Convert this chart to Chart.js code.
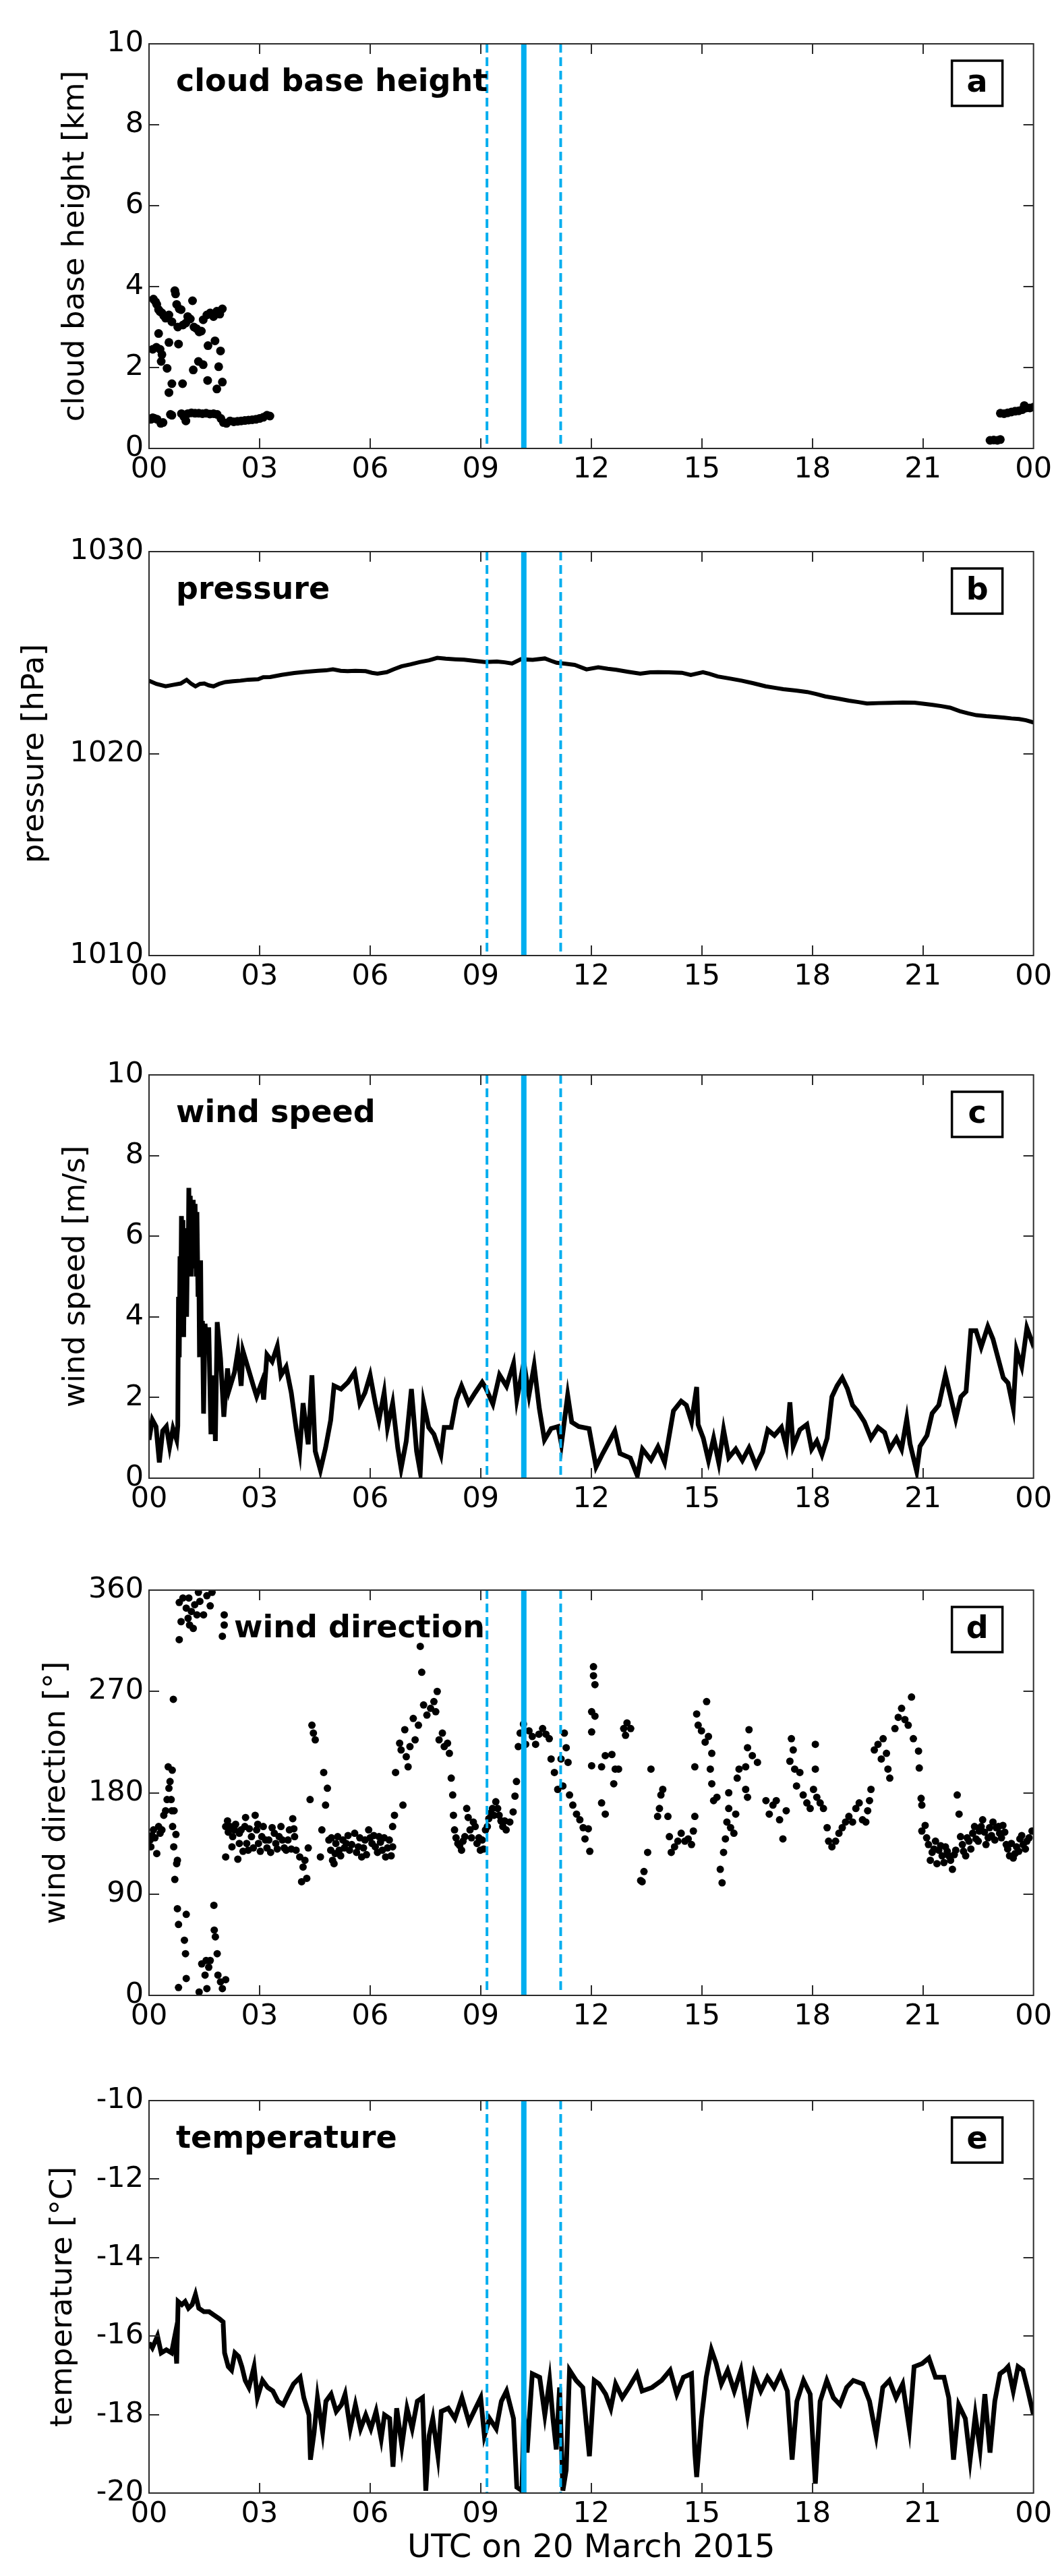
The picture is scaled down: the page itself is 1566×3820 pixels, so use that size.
<!DOCTYPE html>
<html>
<head>
<meta charset="utf-8">
<script src="https://cdn.jsdelivr.net/npm/chart.js@4.4.0/dist/chart.umd.min.js"></script>
<style>
  body { margin: 0; background: #fff; }
  #wrap { position: relative; width: 1566px; height: 3820px; background: #fff; }
  #wrap canvas { position: absolute; left: 0; }
</style>
</head>
<body>
<div id="wrap"></div>
<script>
// ---- data (hours UTC on 20 March 2015) ----

// x axis
const hourTicks = [0, 3, 6, 9, 12, 15, 18, 21, 24];
const hourLabels = ['00', '03', '06', '09', '12', '15', '18', '21', '00'];

// vertical event markers: dashed, solid, dashed
const eventHours = [9.17, 10.17, 11.17];
const eventSolid = [false, true, false];

// a: cloud base height [km]
const cbhHour = [0.05, 0.1, 0.15, 0.22, 0.32, 0.38, 0.58, 0.62, 0.88, 0.95, 1.0, 1.05, 1.15, 1.25, 1.35, 1.45, 1.55, 1.65, 1.75, 1.85, 1.95, 2.02, 2.1, 2.2, 2.3, 2.4, 2.5, 2.6, 2.7, 2.8, 2.9, 3.0, 3.1, 3.2, 3.28,
  0.12, 0.18, 0.21, 0.26, 0.3, 0.35, 0.4, 0.45, 0.54, 0.62, 0.7, 0.72, 0.75, 0.78, 0.82, 0.87, 0.92, 1.0, 1.05, 1.12, 1.18, 1.22, 1.29, 1.36, 1.42, 1.47, 1.57, 1.66, 1.75, 1.84, 1.92, 1.99,
  0.1, 0.2, 0.26, 0.3, 0.35, 0.33, 0.49, 0.54, 0.8, 0.54, 0.62, 0.91, 1.2, 1.34, 1.47, 1.59, 1.6, 1.79, 1.94, 1.89, 1.84, 1.99,
  22.82, 22.92, 23.02, 23.1, 23.1, 23.2, 23.3, 23.4, 23.5, 23.6, 23.7, 23.75, 23.8, 23.9, 24.0];
const cbhKm = [0.72, 0.76, 0.74, 0.72, 0.62, 0.64, 0.84, 0.82, 0.86, 0.78, 0.68, 0.86, 0.88, 0.87, 0.87, 0.86, 0.87, 0.85, 0.86, 0.84, 0.74, 0.64, 0.62, 0.68, 0.66, 0.67, 0.68, 0.69, 0.7, 0.71, 0.72, 0.74, 0.77, 0.82, 0.8,
  3.69, 3.62, 3.56, 3.43, 3.38, 3.35, 3.28, 3.22, 3.3, 3.13, 3.9, 3.82, 3.56, 3.0, 3.45, 3.43, 3.05, 3.1, 3.26, 3.2, 3.65, 3.0, 2.96, 2.88, 2.9, 3.18, 3.3, 3.35, 3.26, 3.39, 3.32, 3.45,
  2.45, 2.5, 2.84, 2.45, 2.32, 2.15, 1.98, 2.62, 2.58, 1.38, 1.6, 1.6, 1.94, 2.15, 2.07, 1.68, 2.54, 2.66, 2.41, 2.02, 1.47, 1.64,
  0.2, 0.21, 0.2, 0.22, 0.87, 0.86, 0.88, 0.9, 0.92, 0.93, 0.96, 1.06, 1.0, 1.0, 1.02];

// b: pressure [hPa]
const presHour = [0, 0.2, 0.45, 0.65, 0.86, 1.02, 1.15, 1.26, 1.38, 1.5, 1.62, 1.75, 1.9, 2.07, 2.28, 2.48, 2.7, 2.96, 3.1, 3.29, 3.6, 3.94, 4.25, 4.58, 4.8, 4.99, 5.2, 5.39, 5.6, 5.88, 6.05, 6.2, 6.45, 6.65, 6.85, 7.1, 7.34, 7.6, 7.82, 8.05, 8.31, 8.55, 8.79, 9.12, 9.44, 9.65, 9.85, 10.09, 10.41, 10.74, 10.9, 11.06, 11.3, 11.55, 11.87, 12.19, 12.45, 12.68, 13.0, 13.33, 13.6, 13.81, 14.1, 14.46, 14.7, 15.03, 15.2, 15.43, 15.75, 16.08, 16.4, 16.73, 17.0, 17.21, 17.55, 17.86, 18.1, 18.35, 18.7, 18.99, 19.25, 19.48, 19.8, 20.13, 20.45, 20.77, 21.0, 21.26, 21.5, 21.74, 22.0, 22.23, 22.45, 22.72, 22.95, 23.21, 23.4, 23.61, 23.8, 24];
const presHpa = [1023.61, 1023.45, 1023.33, 1023.4, 1023.47, 1023.65, 1023.45, 1023.33, 1023.45, 1023.47, 1023.38, 1023.33, 1023.45, 1023.54, 1023.58, 1023.61, 1023.66, 1023.68, 1023.78, 1023.79, 1023.9, 1023.99, 1024.05, 1024.1, 1024.12, 1024.17, 1024.1, 1024.08, 1024.1, 1024.08, 1024.0, 1023.96, 1024.03, 1024.18, 1024.32, 1024.42, 1024.53, 1024.62, 1024.74, 1024.7, 1024.67, 1024.65, 1024.6, 1024.53, 1024.56, 1024.52, 1024.46, 1024.67, 1024.64, 1024.71, 1024.6, 1024.5, 1024.45, 1024.39, 1024.17, 1024.27, 1024.2, 1024.15, 1024.05, 1023.96, 1024.02, 1024.03, 1024.02, 1024.0, 1023.89, 1024.03, 1023.95, 1023.82, 1023.72, 1023.61, 1023.48, 1023.33, 1023.25, 1023.19, 1023.12, 1023.05, 1022.95, 1022.83, 1022.72, 1022.62, 1022.55, 1022.48, 1022.5, 1022.51, 1022.53, 1022.52, 1022.47, 1022.41, 1022.35, 1022.27, 1022.1, 1021.99, 1021.9, 1021.85, 1021.82, 1021.78, 1021.74, 1021.71, 1021.65, 1021.54];

// c: wind speed [m/s]
const wsHour = [0, 0.09, 0.19, 0.28, 0.37, 0.47, 0.56, 0.65, 0.75, 0.78, 0.8, 0.82, 0.84, 0.86, 0.88, 0.9, 0.92, 0.94, 0.96, 0.98, 1.0, 1.02, 1.04, 1.06, 1.08, 1.1, 1.12, 1.14, 1.16, 1.18, 1.2, 1.22, 1.25, 1.28, 1.3, 1.33, 1.35, 1.37, 1.4, 1.42, 1.45, 1.48, 1.52, 1.57, 1.62, 1.68, 1.76, 1.8, 1.85, 1.94, 2.03, 2.13, 2.18, 2.32, 2.41, 2.5, 2.55, 2.69, 2.83, 2.92, 3.06, 3.11, 3.2, 3.34, 3.48, 3.58, 3.72, 3.86, 4.0, 4.09, 4.18, 4.32, 4.42, 4.51, 4.65, 4.79, 4.93, 5.02, 5.21, 5.4, 5.58, 5.72, 5.86, 6.0, 6.14, 6.24, 6.38, 6.47, 6.61, 6.75, 6.84, 6.98, 7.12, 7.26, 7.36, 7.45, 7.59, 7.73, 7.92, 8.01, 8.2, 8.34, 8.48, 8.67, 8.85, 9.04, 9.14, 9.33, 9.51, 9.7, 9.89, 9.98, 10.17, 10.31, 10.45, 10.59, 10.73, 10.91, 11.1, 11.19, 11.36, 11.47, 11.66, 11.94, 12.13, 12.31, 12.64, 12.78, 13.06, 13.25, 13.39, 13.62, 13.81, 13.99, 14.23, 14.44, 14.58, 14.72, 14.86, 14.9, 15.04, 15.18, 15.32, 15.46, 15.59, 15.73, 15.92, 16.1, 16.28, 16.47, 16.65, 16.79, 16.97, 17.16, 17.29, 17.39, 17.48, 17.66, 17.85, 17.98, 18.12, 18.26, 18.4, 18.53, 18.67, 18.81, 18.95, 19.09, 19.22, 19.41, 19.59, 19.78, 19.96, 20.1, 20.28, 20.42, 20.56, 20.65, 20.83, 20.92, 21.11, 21.25, 21.43, 21.61, 21.75, 21.89, 22.03, 22.17, 22.3, 22.44, 22.58, 22.76, 22.9, 23.04, 23.18, 23.31, 23.45, 23.54, 23.68, 23.82, 23.96, 24];
const wsMs = [0.95, 1.45, 1.28, 0.39, 1.17, 1.28, 0.78, 1.23, 0.95, 1.3, 4.5, 3.0, 5.5, 4.0, 6.5, 5.0, 6.4, 3.5, 5.5, 4.2, 6.2, 4.0, 5.6, 5.0, 7.2, 5.5, 7.0, 5.0, 6.5, 5.2, 6.9, 5.5, 6.8, 5.0, 6.6, 4.5, 5.4, 3.0, 5.4, 3.2, 3.9, 1.6, 3.83, 3.15, 3.74, 1.09, 2.55, 0.92, 3.87, 2.97, 1.52, 2.72, 2.21, 2.63, 3.15, 2.29, 3.15, 2.72, 2.29, 2.03, 2.38, 1.95, 3.06, 2.89, 3.27, 2.55, 2.76, 2.12, 1.18, 0.67, 1.86, 0.84, 2.55, 0.67, 0.2, 0.75, 1.44, 2.29, 2.21, 2.38, 2.63, 1.86, 2.12, 2.55, 1.86, 1.44, 2.12, 1.26, 1.86, 0.75, 0.24, 0.92, 2.21, 0.67, 0.15, 1.86, 1.26, 1.09, 0.58, 1.26, 1.26, 1.95, 2.29, 1.86, 2.12, 2.38, 2.23, 1.84, 2.56, 2.28, 2.84, 1.95, 2.87, 2.06, 2.79, 1.73, 0.95, 1.23, 1.28, 0.84, 2.06, 1.39, 1.28, 1.23, 0.28, 0.61, 1.17, 0.61, 0.5, 0.06, 0.72, 0.45, 0.78, 0.39, 1.67, 1.91, 1.81, 1.4, 2.26, 1.33, 0.99, 0.44, 0.99, 0.38, 1.2, 0.51, 0.72, 0.44, 0.75, 0.31, 0.65, 1.2, 1.06, 1.26, 0.79, 1.88, 0.79, 1.2, 1.33, 0.72, 0.92, 0.58, 0.99, 2.02, 2.29, 2.49, 2.22, 1.81, 1.67, 1.4, 0.99, 1.26, 1.13, 0.72, 0.99, 0.72, 1.47, 0.85, 0.17, 0.79, 1.06, 1.61, 1.81, 2.56, 2.02, 1.47, 2.02, 2.15, 3.66, 3.66, 3.25, 3.76, 3.45, 2.97, 2.49, 2.36, 1.74, 3.18, 2.77, 3.73, 3.38, 3.5];

// d: wind direction [deg]
const wdHour = [0.03, 0.05, 0.08, 0.12, 0.16, 0.21, 0.26, 0.3, 0.35, 0.4, 0.45, 0.49, 0.52, 0.54, 0.57, 0.6, 0.62, 0.63, 0.64, 0.66, 0.67, 0.68, 0.7, 0.73, 0.75, 0.77, 0.77, 0.8, 0.8, 0.82, 0.82, 0.87, 0.92, 0.96, 0.99, 1.01, 1.01, 1.01, 1.06, 1.08, 1.1, 1.15, 1.2, 1.24, 1.3, 1.34, 1.36, 1.38, 1.43, 1.48, 1.52, 1.55, 1.57, 1.57, 1.62, 1.66, 1.66, 1.71, 1.76, 1.77, 1.8, 1.85, 1.87, 1.94, 1.99, 1.99, 2.04, 2.04, 2.08, 2.08, 2.08,
  2.13, 2.2, 2.27, 2.32, 2.41, 2.45, 2.5, 2.6, 2.65, 2.69, 2.78, 2.88, 2.92, 2.97, 3.06, 3.16, 3.25, 3.34, 3.44, 3.53, 3.62, 3.72, 3.81, 3.9, 3.95, 3.99, 4.09, 4.14, 4.18, 4.23, 4.28, 4.32, 4.37, 4.42, 4.46, 4.51, 4.65, 4.69, 4.74, 4.79, 4.84, 4.88, 4.93, 4.98, 5.02, 5.07, 5.16, 5.26, 5.35, 5.44, 5.58, 5.68, 5.77, 5.86, 5.96, 6.05, 6.14, 6.24, 6.33, 6.42, 6.52, 6.61, 6.61, 6.66,
  6.69, 6.8, 6.84, 6.89, 6.94, 6.98, 7.03, 7.08, 7.17, 7.22, 7.31, 7.36, 7.4, 7.45, 7.54, 7.64, 7.73, 7.82, 7.78, 7.87, 7.96, 8.01, 8.1, 8.15, 8.2, 8.24, 8.26, 8.29, 8.38, 8.48, 8.57, 8.62, 8.71, 8.8, 8.9, 8.99, 9.04, 9.13, 9.22, 9.32, 9.41, 9.5, 9.6, 9.69, 9.79, 9.88, 9.93, 9.97, 10.02, 10.07, 10.16,
  10.22, 10.31, 10.4, 10.49, 10.58, 10.68, 10.77, 10.86, 10.91, 11.0, 11.09, 11.18, 11.23, 11.27, 11.32, 11.37, 11.41, 11.5, 11.6, 11.69, 11.78, 11.83, 11.92, 11.96, 12.01, 12.01, 12.01, 12.06, 12.06, 12.1, 12.1, 12.28, 12.28, 12.38, 12.38, 12.56, 12.61, 12.65, 12.74, 12.88, 12.93, 12.97, 13.07, 13.34, 13.38, 13.43, 13.53, 13.62, 13.8, 13.85, 13.89, 13.94, 14.08, 14.12, 14.17, 14.26, 14.35, 14.44, 14.54, 14.63, 14.72, 14.77, 14.81, 14.81,
  14.86, 14.9, 14.99, 15.09, 15.13, 15.18, 15.23, 15.27, 15.27, 15.32, 15.41, 15.5, 15.55, 15.59, 15.64, 15.68, 15.73, 15.73, 15.78, 15.87, 15.92, 15.96, 16.01, 16.19, 16.19, 16.24, 16.24, 16.28, 16.37, 16.51, 16.74, 16.83, 16.93, 17.02, 17.11, 17.2, 17.29, 17.39, 17.43, 17.48, 17.52, 17.57, 17.66, 17.75, 17.85, 17.94, 18.03, 18.08, 18.08, 18.12, 18.21, 18.3, 18.4, 18.44, 18.53, 18.63, 18.72, 18.81, 18.9, 18.99, 19.09, 19.18, 19.27, 19.36, 19.45, 19.5, 19.55, 19.59, 19.68, 19.78, 19.87, 19.92, 20.01, 20.05, 20.1, 20.24, 20.33, 20.42, 20.51, 20.6, 20.69, 20.74, 20.88, 20.9, 20.95, 20.97,
  20.97, 21.06, 21.15, 21.25, 21.34, 21.43, 21.52, 21.61, 21.7, 21.8, 21.89, 21.93, 21.98, 22.02, 22.07, 22.16, 22.25, 22.35, 22.44, 22.53, 22.62, 22.71, 22.81, 22.9, 22.99, 23.08, 23.17, 23.26, 23.35, 23.45, 23.54, 23.63, 23.72, 23.82, 23.96,
  2.15, 2.25, 2.35, 2.45, 2.55, 2.62, 2.72, 2.83, 2.95, 3.02, 3.1, 3.2, 3.3, 3.4, 3.48, 3.58, 3.67, 3.77, 3.86, 3.93,
  4.95, 5.05, 5.12, 5.2, 5.3, 5.4, 5.5, 5.63, 5.72, 5.82, 5.9, 6.0, 6.1, 6.2, 6.28, 6.38, 6.47, 6.57,
  8.33, 8.43, 8.52, 8.66, 8.75, 8.85, 8.95, 9.08, 9.18, 9.27, 9.36, 9.46, 9.55, 9.65,
  21.1, 21.2, 21.3, 21.38, 21.48, 21.57, 21.66, 21.75, 21.85, 22.1, 22.2, 22.3, 22.4, 22.5, 22.58, 22.67, 22.77, 22.86, 22.95, 23.05, 23.13, 23.22, 23.3, 23.4, 23.5, 23.6, 23.68, 23.78, 23.88];
const wdDeg = [138, 132, 142, 147, 140, 126, 150, 144, 147, 160, 164, 174, 203, 184, 190, 174, 164, 200, 150, 263, 132, 164, 103, 143, 117, 120, 77, 63, 7, 316, 349, 332, 353, 49, 37, 15, 72, 344, 335, 353, 329, 341, 326, 347, 338, 358, 3, 350, 28, 338, 18, 31, 6, 355, 25, 31, 346, 358, 80, 58, 52, 37, 18, 12, 6, 319, 338, 329, 14, 123, 150,
  155, 150, 141, 147, 121, 135, 147, 150, 135, 129, 141, 160, 147, 135, 141, 138, 138, 149, 135, 141, 138, 129, 147, 157, 141, 129, 123, 101, 114, 120, 104, 131, 174, 240, 233, 227, 123, 147, 198, 169, 184, 138, 129, 120, 117, 135, 129, 138, 135, 129, 144, 132, 123, 138, 147, 135, 132, 141, 129, 123, 138, 132, 150, 160,
  198, 224, 218, 169, 236, 212, 203, 221, 246, 227, 240, 310, 287, 258, 249, 255, 261, 270, 252, 227, 233, 221, 224, 215, 193, 178, 160, 147, 135, 129, 141, 166, 147, 154, 135, 129, 138, 147, 157, 166, 172, 160, 150, 147, 154, 163, 177, 190, 221, 233, 241,
  223, 235, 230, 223, 232, 237, 232, 228, 210, 198, 183, 210, 186, 233, 220, 207, 178, 169, 161, 156, 149, 139, 148, 128, 252, 234, 204, 292, 284, 276, 248, 171, 203, 161, 213, 214, 188, 201, 201, 237, 231, 242, 237, 102, 101, 110, 127, 201, 159, 166, 178, 183, 159, 141, 127, 132, 137, 144, 137, 139, 134, 146, 159, 203,
  250, 240, 235, 225, 261, 230, 201, 215, 188, 173, 176, 112, 100, 127, 139, 154, 166, 180, 149, 144, 161, 193, 201, 183, 203, 176, 220, 236, 213, 207, 173, 161, 169, 173, 156, 139, 164, 208, 228, 218, 201, 186, 198, 178, 171, 166, 183, 223, 201, 176, 171, 166, 149, 137, 132, 137, 144, 149, 154, 159, 154, 166, 171, 156, 154, 164, 173, 183, 218, 223, 210, 228, 215, 201, 193, 237, 247, 255, 245, 240, 265, 228, 217, 202, 175, 169,
  146, 151, 134, 127, 137, 129, 124, 132, 124, 112, 129, 178, 161, 141, 134, 124, 137, 144, 139, 146, 156, 134, 149, 154, 149, 144, 151, 134, 124, 122, 132, 139, 134, 137, 146,
  145, 132, 152, 144, 128, 158, 148, 131, 152, 128, 150, 131, 127, 144, 130, 150, 131, 138, 130, 148,
  140, 126, 141, 124, 131, 142, 134, 127, 140, 131, 125, 140, 142, 127, 136, 140, 131, 124,
  140, 133, 137, 158, 140, 150, 140, 130, 150, 162, 160, 166, 155, 155,
  140, 120, 130, 117, 133, 118, 128, 120, 125, 128, 140, 130, 150, 137, 150, 145, 140, 142, 138, 150, 140, 145, 130, 135, 126, 128, 142, 130, 140];

// e: temperature [degC]
const tHour = [0, 0.09, 0.23, 0.33, 0.47, 0.61, 0.7, 0.75, 0.79, 0.89, 0.98, 1.07, 1.17, 1.26, 1.35, 1.49, 1.63, 1.77, 1.91, 2.01, 2.05, 2.15, 2.24, 2.33, 2.43, 2.52, 2.61, 2.71, 2.85, 2.94, 3.08, 3.22, 3.36, 3.5, 3.64, 3.78, 3.92, 4.1, 4.2, 4.34, 4.38, 4.48, 4.57, 4.71, 4.8, 4.94, 5.08, 5.22, 5.32, 5.46, 5.6, 5.74, 5.88, 6.02, 6.16, 6.3, 6.39, 6.53, 6.62, 6.72, 6.86, 7.0, 7.14, 7.28, 7.42, 7.51, 7.6, 7.7, 7.84, 7.93, 8.12, 8.3, 8.49, 8.68, 8.86, 9.0, 9.1, 9.24, 9.42, 9.56, 9.7, 9.89, 9.98, 10.12, 10.17, 10.26, 10.4, 10.6, 10.74, 10.87, 10.96, 11.05, 11.14, 11.23, 11.32, 11.41, 11.59, 11.77, 11.95, 12.08, 12.21, 12.39, 12.53, 12.66, 12.84, 13.02, 13.24, 13.38, 13.65, 13.91, 14.14, 14.32, 14.5, 14.72, 14.81, 14.86, 14.99, 15.12, 15.26, 15.39, 15.53, 15.7, 15.88, 16.06, 16.24, 16.42, 16.6, 16.78, 16.96, 17.14, 17.32, 17.45, 17.58, 17.76, 17.94, 18.08, 18.21, 18.39, 18.57, 18.75, 18.93, 19.11, 19.37, 19.55, 19.73, 19.91, 20.09, 20.27, 20.45, 20.63, 20.76, 20.98, 21.16, 21.34, 21.57, 21.7, 21.83, 21.97, 22.15, 22.28, 22.42, 22.55, 22.68, 22.82, 22.95, 23.09, 23.22, 23.31, 23.45, 23.58, 23.71, 23.85, 24];
const tDegC = [-16.17, -16.3, -16.0, -16.43, -16.35, -16.43, -16.0, -16.7, -15.12, -15.2, -15.12, -15.29, -15.2, -14.94, -15.29, -15.38, -15.38, -15.47, -15.56, -15.64, -16.43, -16.78, -16.87, -16.43, -16.52, -16.78, -17.13, -17.31, -16.78, -17.57, -17.13, -17.31, -17.4, -17.66, -17.75, -17.48, -17.22, -17.05, -17.57, -18.01, -19.15, -18.45, -17.57, -18.45, -17.66, -17.48, -17.92, -17.75, -17.48, -18.36, -17.75, -18.36, -18.01, -18.36, -17.92, -18.62, -18.01, -18.1, -19.33, -17.84, -18.8, -17.84, -18.36, -17.66, -17.57, -19.94, -18.54, -18.1, -19.06, -17.92, -17.84, -18.1, -17.57, -18.19, -17.84, -17.57, -18.54, -18.1, -18.36, -17.66, -17.4, -18.1, -19.85, -19.94, -17.92, -18.97, -16.96, -17.05, -18.01, -17.13, -18.1, -18.89, -17.31, -19.94, -19.41, -16.87, -17.13, -17.31, -19.06, -17.13, -17.22, -17.48, -17.84, -17.22, -17.57, -17.31, -16.96, -17.4, -17.31, -17.13, -16.87, -17.48, -17.05, -16.96, -18.97, -19.59, -18.1, -17.05, -16.35, -16.7, -17.22, -16.87, -17.4, -16.87, -18.01, -16.96, -17.4, -17.05, -17.31, -16.96, -17.4, -19.15, -17.66, -17.13, -17.48, -19.76, -17.66, -17.13, -17.57, -17.75, -17.31, -17.13, -17.22, -17.66, -18.54, -17.31, -17.13, -17.57, -17.22, -18.36, -16.78, -16.7, -16.56, -17.05, -17.05, -17.57, -19.15, -17.75, -18.1, -19.15, -18.01, -18.89, -17.48, -18.97, -17.66, -16.96, -16.87, -16.78, -17.4, -16.78, -16.87, -17.4, -18.01];

// ---- drawing ----
Chart.defaults.font.family = '"DejaVu Sans", sans-serif';
Chart.defaults.color = '#000';

const BLUE = '#00aeef';
const FONT_TICK = { size: 43 };
const FONT_TITLE = { size: 45, lineHeight: 1.2 };

const zip = (xs, ys) => xs.map((x, i) => ({ x: x, y: ys[i] }));

// frame with inward ticks on all four sides, inset title and panel letter
const panelDeco = {
  id: 'panelDeco',
  afterDraw(chart, args, opts) {
    const { ctx, chartArea: { left, top, right, bottom } } = chart;
    const xs = chart.scales.x, ys = chart.scales.y;
    ctx.save();
    ctx.strokeStyle = '#2b2b2b';
    ctx.lineWidth = 2;
    ctx.strokeRect(left, top, right - left, bottom - top);
    ctx.beginPath();
    xs.ticks.forEach(t => {
      if (t.value <= xs.min || t.value >= xs.max) return;
      const px = Math.round(xs.getPixelForValue(t.value));
      ctx.moveTo(px, bottom); ctx.lineTo(px, bottom - 15);
      ctx.moveTo(px, top); ctx.lineTo(px, top + 15);
    });
    ys.ticks.forEach(t => {
      if (t.value <= ys.min || t.value >= ys.max) return;
      const py = Math.round(ys.getPixelForValue(t.value));
      ctx.moveTo(left, py); ctx.lineTo(left + 15, py);
      ctx.moveTo(right, py); ctx.lineTo(right - 15, py);
    });
    ctx.stroke();

    ctx.fillStyle = '#000';
    ctx.font = 'bold 46px "DejaVu Sans"';
    ctx.textAlign = 'left';
    ctx.textBaseline = 'alphabetic';
    ctx.fillText(opts.title, left + opts.dx, top + 70);

    ctx.strokeStyle = '#000';
    ctx.lineWidth = 3.5;
    ctx.strokeRect(right - 121, top + 25, 75, 67);
    ctx.textAlign = 'center';
    ctx.textBaseline = 'middle';
    ctx.fillText(opts.letter, right - 83.5, top + 59);
    ctx.restore();
  }
};

function eventLines(yMin, yMax) {
  return eventHours.map((h, i) => ({
    type: 'line',
    data: [{ x: h, y: yMax }, { x: h, y: yMin }],
    borderColor: BLUE,
    borderWidth: eventSolid[i] ? 8 : 4,
    borderDash: eventSolid[i] ? [] : [13, 7],
    pointRadius: 0,
    order: 0
  }));
}

const panels = [
  { letter: 'a', top: 65, bottom: 665, title: 'cloud base height', dx: 40, yMin: 0, yMax: 10, yStep: 2, yTitle: 'cloud base height [km]', yPad: 85, dots: true, r: 6.5, xs: cbhHour, ys: cbhKm },
  { letter: 'b', top: 818, bottom: 1417, title: 'pressure', dx: 40, yMin: 1010, yMax: 1030, yStep: 10, yTitle: 'pressure [hPa]', yPad: 25, dots: false, lw: 6, xs: presHour, ys: presHpa },
  { letter: 'c', top: 1594, bottom: 2192, title: 'wind speed', dx: 40, yMin: 0, yMax: 10, yStep: 2, yTitle: 'wind speed [m/s]', yPad: 86, dots: false, lw: 7, xs: wsHour, ys: wsMs },
  { letter: 'd', top: 2358, bottom: 2959, title: 'wind direction', dx: 126, yMin: 0, yMax: 360, yStep: 90, yTitle: 'wind direction [°]', yPad: 57, dots: true, r: 5.5, xs: wdHour, ys: wdDeg },
  { letter: 'e', top: 3115, bottom: 3697, title: 'temperature', dx: 40, yMin: -20, yMax: -10, yStep: 2, yTitle: 'temperature [°C]', yPad: 67, dots: false, lw: 7, xs: tHour, ys: tDegC, xTitle: 'UTC on 20 March 2015' }
];

const wrap = document.getElementById('wrap');

panels.forEach(p => {
  const padTop = 40;
  const xH = p.xTitle ? 3820 - p.bottom : 80;
  const cv = document.createElement('canvas');
  const h = p.bottom - p.top + padTop + xH;
  cv.width = 1566; cv.height = h;
  cv.style.width = '1566px'; cv.style.height = h + 'px';
  cv.style.top = (p.top - padTop) + 'px';
  wrap.appendChild(cv);

  const main = p.dots
    ? { type: 'scatter', data: zip(p.xs, p.ys), showLine: false, pointRadius: p.r, pointBackgroundColor: '#000', pointBorderWidth: 0, order: 1 }
    : { type: 'line', data: zip(p.xs, p.ys), borderColor: '#000', borderWidth: p.lw, pointRadius: 0, tension: 0, borderJoinStyle: 'miter', order: 1 };

  new Chart(cv, {
    type: 'line',
    data: { datasets: [main, ...eventLines(p.yMin, p.yMax)] },
    options: {
      responsive: false,
      animation: false,
      events: [],
      layout: { padding: { top: padTop, right: 33, left: 0, bottom: 0 } },
      plugins: {
        legend: { display: false },
        tooltip: { enabled: false },
        panelDeco: { title: p.title, dx: p.dx, letter: p.letter }
      },
      scales: {
        x: {
          type: 'linear', min: 0, max: 24,
          afterFit: s => { s.height = xH; },
          afterBuildTicks: s => { s.ticks = hourTicks.map(v => ({ value: v })); },
          grid: { display: false, drawTicks: false },
          border: { display: false },
          ticks: { autoSkip: false, maxRotation: 0, padding: 6, font: FONT_TICK, color: '#000',
                   callback: v => hourLabels[hourTicks.indexOf(v)] },
          title: p.xTitle ? { display: true, text: p.xTitle, font: { size: 48, lineHeight: 1.2 }, color: '#000', padding: { top: 0, bottom: 12 } } : { display: false }
        },
        y: {
          type: 'linear', min: p.yMin, max: p.yMax,
          afterFit: s => { s.width = 221; },
          grid: { display: false, drawTicks: false },
          border: { display: false },
          ticks: { stepSize: p.yStep, autoSkip: false, padding: 8, font: FONT_TICK, color: '#000', callback: v => String(v) },
          title: { display: true, text: p.yTitle, font: FONT_TITLE, color: '#000', padding: { top: p.yPad, bottom: 0 } }
        }
      }
    },
    plugins: [panelDeco]
  });
});
</script>
</body>
</html>
